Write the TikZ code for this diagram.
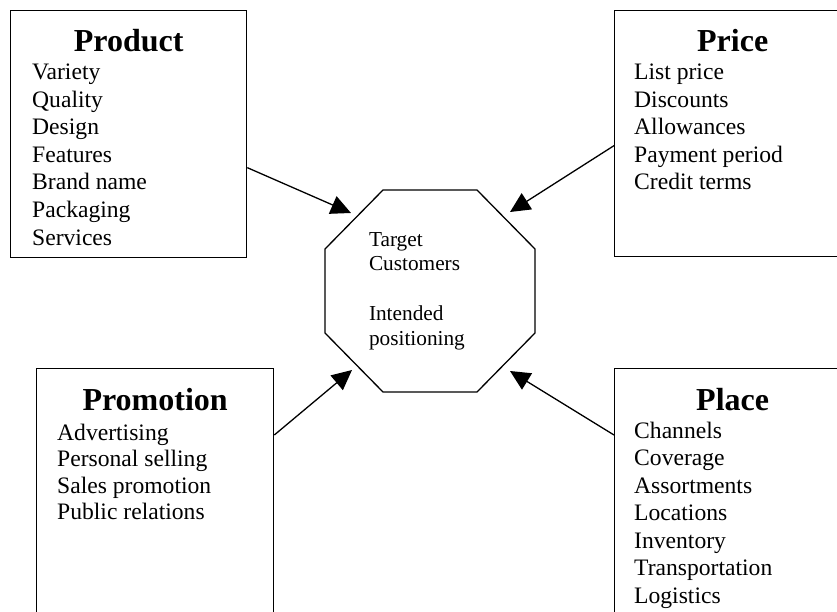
\documentclass[tikz,border=0pt]{standalone}
\usepackage{fontspec}
\setmainfont{Liberation Serif}
\usetikzlibrary{arrows.meta,calc}
\begin{document}
\begin{tikzpicture}[x=1pt,y=-1pt,
  mixbox/.style={draw, line width=1.3pt, rectangle, anchor=north west, inner sep=0pt},
  head/.style={font=\fontsize{32}{36}\selectfont\bfseries, anchor=base, inner sep=0pt},
  % multi-line lists are anchored on the baseline of their last line
  items/.style={font=\fontsize{23.6}{27.5}\selectfont, align=left, anchor=base west, inner sep=0pt},
  core/.style={font=\fontsize{21.3}{24.7}\selectfont, align=left, text width=122pt, inner sep=0pt},
  octa/.style={line width=1.3pt, line join=miter},
  arr/.style={line width=1.3pt, -{Triangle[length=20pt,width=19pt]}}]
\useasboundingbox (0,0) rectangle (837,612);
\clip (0,0) rectangle (837,612);

% the four elements of the marketing mix
\node[mixbox, minimum width=236pt, minimum height=247pt] (prod) at (10,10) {};
\node[mixbox, minimum width=236pt, minimum height=246pt] (price) at (614,10) {};
\node[mixbox, minimum width=237pt, minimum height=270pt] (promo) at (36,368) {};
\node[mixbox, minimum width=236pt, minimum height=270pt] (place) at (614,368) {};

\node[head] (prodT) at ([yshift=-42pt]prod.north) {Product};
\node[head] (priceT) at ([yshift=-42pt]price.north) {Price};
\node[head] (promoT) at ([yshift=-42pt]promo.north) {Promotion};
\node[head] (placeT) at ([yshift=-42pt]place.north) {Place};

\node[items] (prodL) at ([shift={(22,235)}]prod.north west)
  {Variety\\Quality\\Design\\Features\\Brand name\\Packaging\\Services};
\node[items] (priceL) at ([shift={(20,180)}]price.north west)
  {List price\\Discounts\\Allowances\\Payment period\\Credit terms};
\node[items, font=\fontsize{23.6}{26.5}\selectfont] (promoL) at ([shift={(21,151.5)}]promo.north west)
  {Advertising\\Personal selling\\Sales promotion\\Public relations};
\node[items] (placeL) at ([shift={(20,235)}]place.north west)
  {Channels\\Coverage\\Assortments\\Locations\\Inventory\\Transportation\\Logistics};

% the target market in the middle
\node[core] (target) at (430,291)
  {Target\\Customers\\[24.7pt]Intended\\positioning};
\draw[octa] ([shift={(-47,-101)}]target.center) -- ([shift={(47,-101)}]target.center)
  -- ([shift={(105,-42)}]target.center) -- ([shift={(105,42)}]target.center)
  -- ([shift={(47,101)}]target.center) -- ([shift={(-47,101)}]target.center)
  -- ([shift={(-105,42)}]target.center) -- ([shift={(-105,-42)}]target.center) -- cycle;

% each element points at the target market
\draw[arr] ([yshift=-33.5pt]prod.east) -- ([shift={(-79,-78)}]target.center);
\draw[arr] ([yshift=-12pt]price.west) -- ([shift={(80,-79)}]target.center);
\draw[arr] ([yshift=-67pt]promo.north east) -- ([shift={(-78,79)}]target.center);
\draw[arr] ([yshift=-67pt]place.north west) -- ([shift={(80,80)}]target.center);
\end{tikzpicture}
\end{document}
